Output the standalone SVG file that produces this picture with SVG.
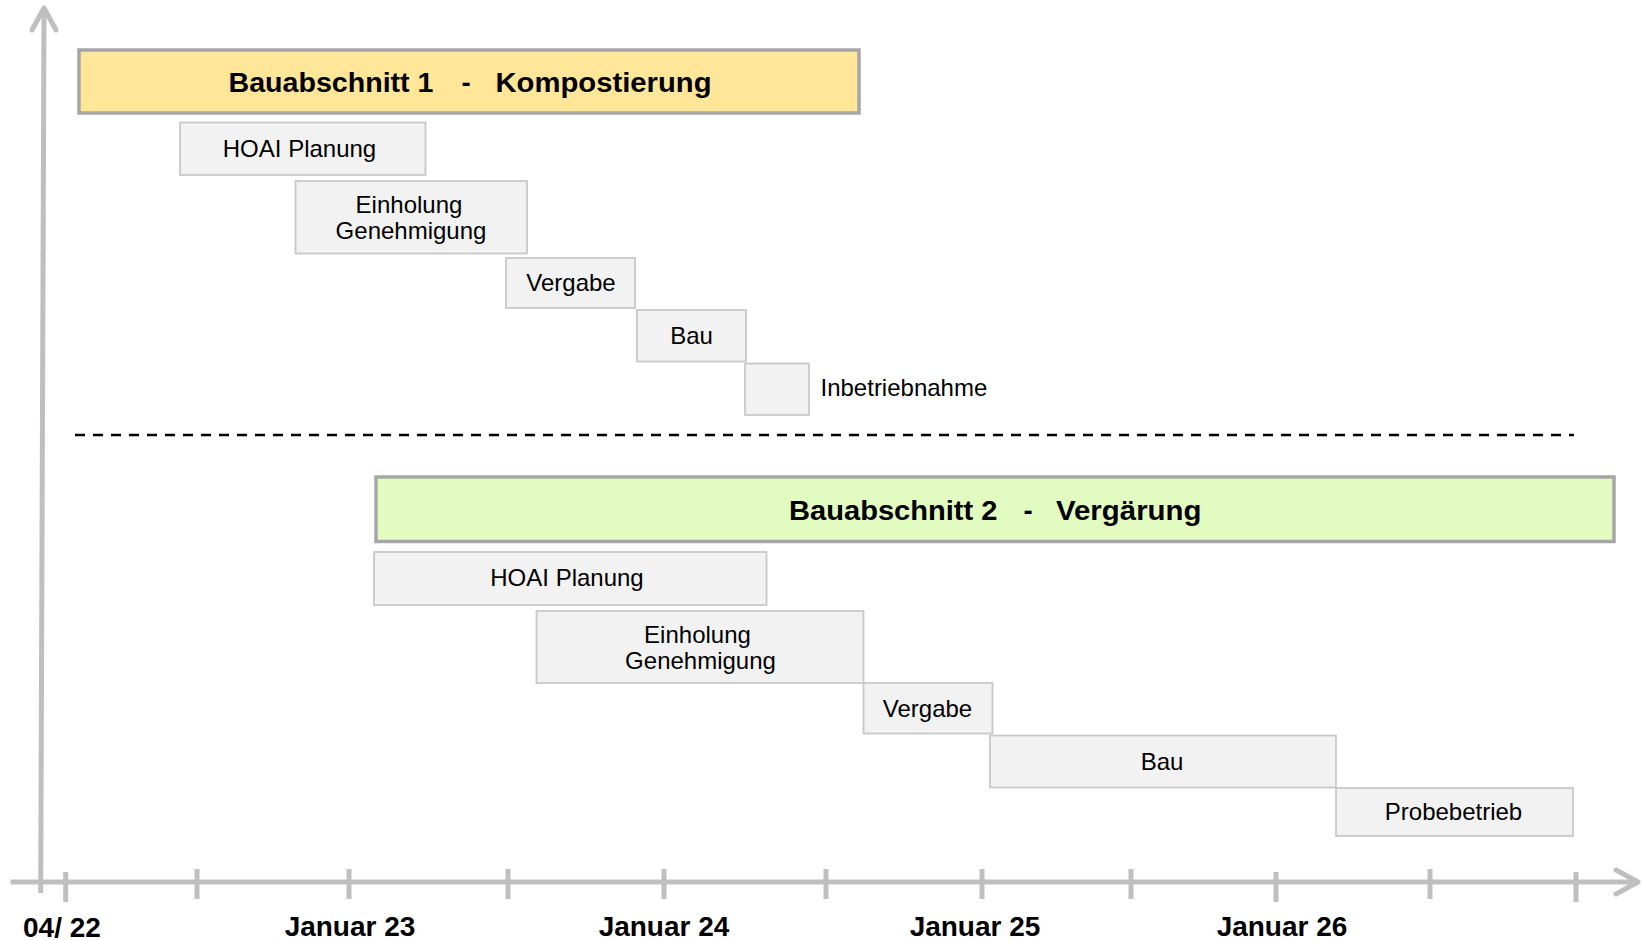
<svg xmlns="http://www.w3.org/2000/svg" width="1643" height="940" viewBox="0 0 1643 940">
<style>
text{font-family:"Liberation Sans",Arial,sans-serif;fill:#000}
.task{fill:#F2F2F2;stroke:#C9C9C9;stroke-width:1.8}
.tl{font-size:24px;text-anchor:middle}
.title{font-size:27.5px;font-weight:bold}
.ax{stroke:#BFBFBF;stroke-width:5;fill:none;stroke-linecap:round;stroke-linejoin:round}
.tick{stroke:#BFBFBF;stroke-width:5}
.date{font-size:28px;font-weight:bold;text-anchor:middle}
</style>
<rect width="1643" height="940" fill="#FFFFFF"/>
<g id="axes">
<line class="ax" x1="44" y1="10" x2="40.7" y2="893" style="stroke-linecap:butt"/>
<polyline class="ax" points="32,30 44,8 56,30"/>
<line class="ax" x1="10.5" y1="882" x2="1636" y2="882" style="stroke-linecap:butt"/>
<polyline class="ax" points="1616,870 1638,882 1616,894"/>
<g id="ticks">
<line class="tick" x1="65.7" y1="872" x2="65.7" y2="902"/>
<line class="tick" x1="197" y1="869" x2="197" y2="899"/>
<line class="tick" x1="349" y1="869" x2="349" y2="899"/>
<line class="tick" x1="508" y1="869" x2="508" y2="899"/>
<line class="tick" x1="664" y1="869" x2="664" y2="899"/>
<line class="tick" x1="826" y1="869" x2="826" y2="899"/>
<line class="tick" x1="982" y1="869" x2="982" y2="899"/>
<line class="tick" x1="1131" y1="869" x2="1131" y2="899"/>
<line class="tick" x1="1276" y1="872" x2="1276" y2="902"/>
<line class="tick" x1="1430" y1="869" x2="1430" y2="899"/>
<line class="tick" x1="1576" y1="872" x2="1576" y2="902"/>
</g>
<g id="date-labels">
<text class="date" x="23" y="937" style="text-anchor:start">04/ 22</text>
<text class="date" x="350" y="936">Januar 23</text>
<text class="date" x="664" y="936">Januar 24</text>
<text class="date" x="975" y="936">Januar 25</text>
<text class="date" x="1282" y="936">Januar 26</text>
</g>
</g>
<g id="connectors"></g>
<g id="bauabschnitt1">
<rect x="79" y="50" width="780" height="63" fill="#FFE699" stroke="#A6A6A6" stroke-width="3.5"/>
<text class="title" y="92"><tspan x="228.5" textLength="205" lengthAdjust="spacingAndGlyphs">Bauabschnitt 1</tspan><tspan x="461.5">-</tspan><tspan x="495.5" textLength="216" lengthAdjust="spacingAndGlyphs">Kompostierung</tspan></text>
</g>
<g id="ba1-hoai">
<rect class="task" x="180" y="122.5" width="245.5" height="52.5"/>
<text class="tl" x="299.5" y="157">HOAI Planung</text>
</g>
<g id="ba1-einholung">
<rect class="task" x="295.5" y="181" width="231.5" height="72.5"/>
<text class="tl" x="409" y="213">Einholung</text>
<text class="tl" x="411" y="239">Genehmigung</text>
</g>
<g id="ba1-vergabe">
<rect class="task" x="506" y="258" width="129" height="50"/>
<text class="tl" x="571" y="291">Vergabe</text>
</g>
<g id="ba1-bau">
<rect class="task" x="637" y="310" width="109" height="51.5"/>
<text class="tl" x="691.5" y="343.5">Bau</text>
</g>
<g id="ba1-inbetriebnahme">
<rect class="task" x="745" y="363.5" width="64" height="51.5"/>
<text x="820.5" y="395.5" style="font-size:24px">Inbetriebnahme</text>
</g>
<g id="separator">
<line x1="75" y1="435" x2="1574" y2="435" stroke="#000" stroke-width="2.6" stroke-dasharray="10 8"/>
</g>
<g id="bauabschnitt2">
<rect x="376" y="477" width="1238" height="64.5" fill="#E1FBC0" stroke="#A6A6A6" stroke-width="3.5"/>
<text class="title" y="519.5"><tspan x="789" textLength="208.5" lengthAdjust="spacingAndGlyphs">Bauabschnitt 2</tspan><tspan x="1023.5">-</tspan><tspan x="1056" textLength="145.5" lengthAdjust="spacingAndGlyphs">Vergärung</tspan></text>
</g>
<g id="ba2-hoai">
<rect class="task" x="374" y="552" width="392.5" height="53"/>
<text class="tl" x="567" y="585.5">HOAI Planung</text>
</g>
<g id="ba2-einholung">
<rect class="task" x="536.5" y="611" width="327" height="72"/>
<text class="tl" x="697.5" y="642.5">Einholung</text>
<text class="tl" x="700.5" y="668.5">Genehmigung</text>
</g>
<g id="ba2-vergabe">
<rect class="task" x="863.5" y="683" width="129" height="50.5"/>
<text class="tl" x="927.5" y="717">Vergabe</text>
</g>
<g id="ba2-bau">
<rect class="task" x="990" y="735.5" width="346" height="52"/>
<text class="tl" x="1162" y="770">Bau</text>
</g>
<g id="ba2-probebetrieb">
<rect class="task" x="1336" y="788" width="237" height="48"/>
<text class="tl" x="1453.5" y="819.5">Probebetrieb</text>
</g>
</svg>
